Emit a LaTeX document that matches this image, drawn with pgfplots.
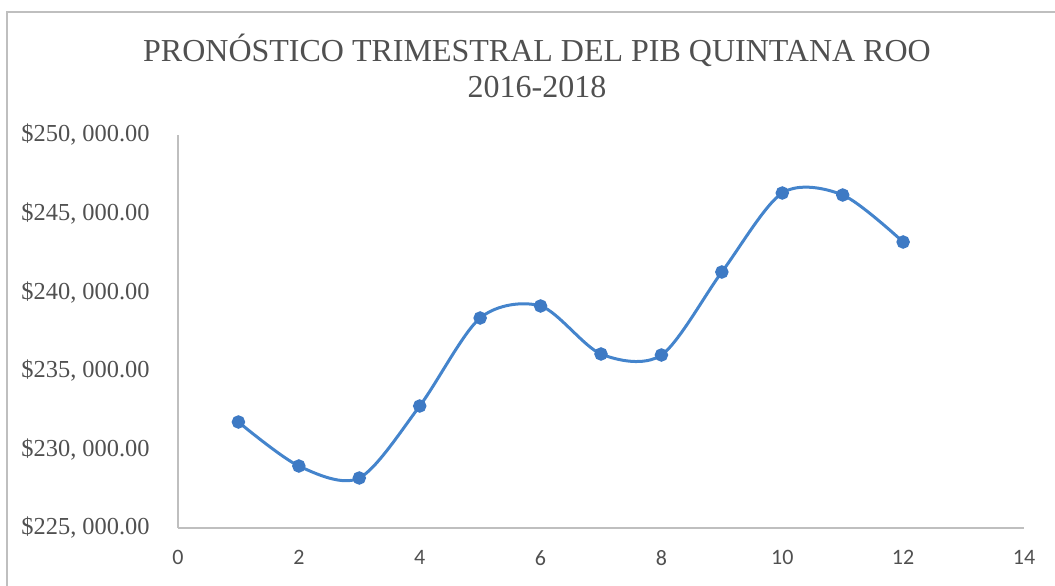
\documentclass[border=0pt]{standalone}
\usepackage{fontspec}
\setmainfont{Liberation Serif}
\newfontfamily\calibri{Carlito}
\usepackage{pgfplots}
\pgfplotsset{compat=1.18}
\definecolor{serie}{RGB}{68,132,204}
\definecolor{marca}{RGB}{62,122,196}
\definecolor{eje}{RGB}{191,191,191}
\definecolor{texto}{RGB}{80,80,80}
\begin{document}
\begin{tikzpicture}
\begin{axis}[
  at={(0,0)}, anchor=origin,
  scale only axis,
  width=423pt, height=196.5pt,
  xmin=0, xmax=14, ymin=225000, ymax=250000,
  xtick={0,2,...,14},
  ytick={225000,230000,235000,240000,245000,250000},
  yticklabels={{\$225, 000.00},{\$230, 000.00},{\$235, 000.00},{\$240, 000.00},{\$245, 000.00},{\$250, 000.00}},
  /pgf/number format/assume math mode=true,
  axis x line*=bottom, axis y line*=left,
  axis line style={eje, line width=0.8pt, -},
  major tick length=0pt,
  tick style={draw=none},
  yticklabel style={font=\fontsize{12.2}{14}\selectfont, text=texto, anchor=east, inner sep=0pt, xshift=-14pt},
  xticklabel style={font=\calibri\fontsize{11}{13}\selectfont, text=texto, anchor=north, inner sep=0pt, yshift=-11pt},
  scaled y ticks=false,
  clip=false,
]
\addplot[serie, line width=1.5pt, smooth, tension=0.5, mark=*, mark size=2.6pt, mark options={fill=marca, draw=marca}]
coordinates {
(1,231743)
(2,228944)
(3,228181)
(4,232761)
(5,238359)
(6,239122)
(7,236069)
(8,236005)
(9,241285)
(10,246310)
(11,246183)
(12,243193)
};
\end{axis}
\draw[eje, line width=0.8pt] (-85.5pt,-40pt) -- (-85.5pt,258pt) -- (450pt,258pt);
\node[text=texto, font=\fontsize{16}{18}\selectfont, align=center] at (179.5pt,231pt) {PRONÓSTICO TRIMESTRAL DEL PIB QUINTANA ROO\\2016-2018};
\pgfresetboundingbox
\path[use as bounding box] (-89pt,-28.5pt) rectangle (438.5pt,264pt);
\end{tikzpicture}
\end{document}
